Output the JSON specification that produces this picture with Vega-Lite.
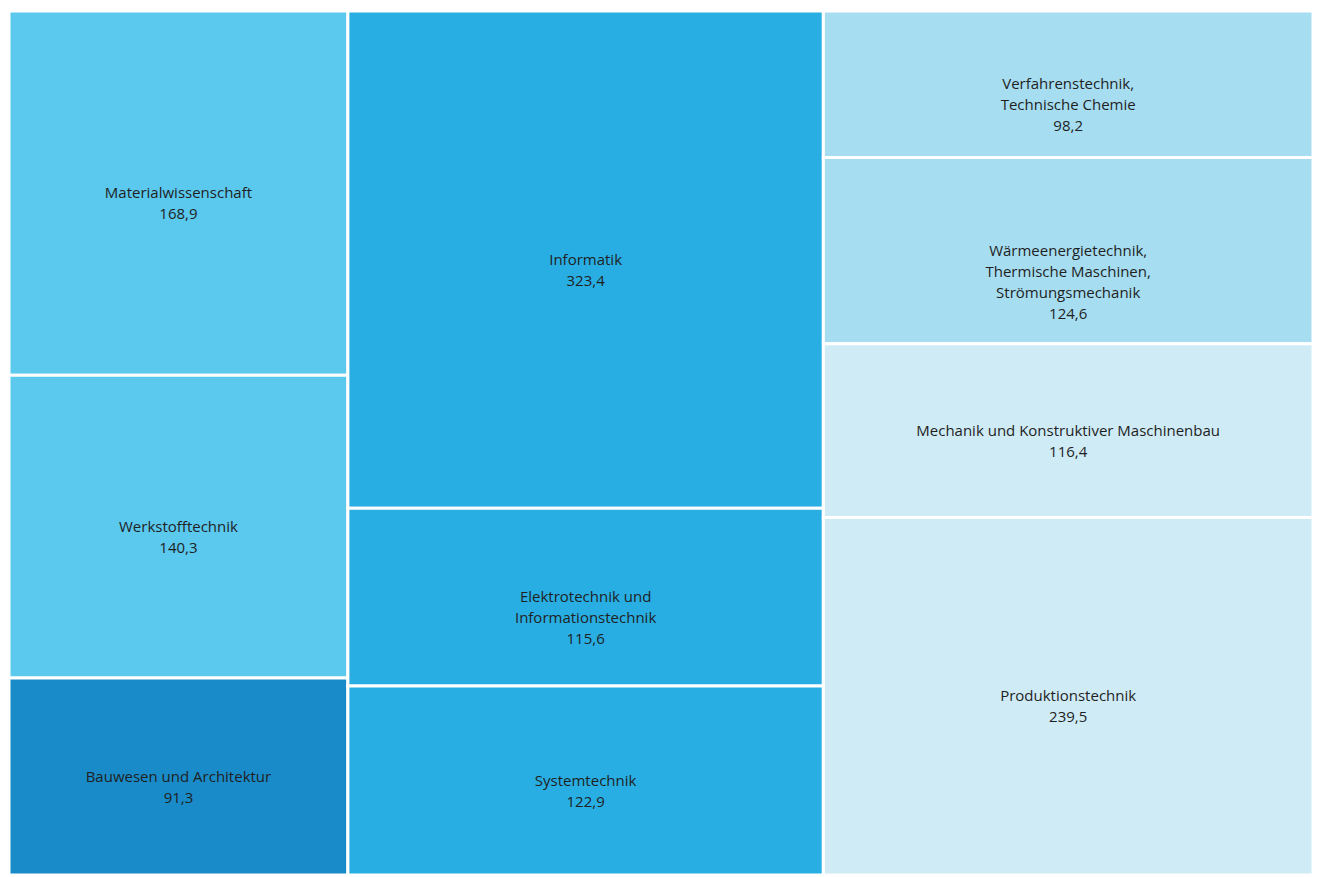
{
  "$schema": "https://vega.github.io/schema/vega-lite/v6.json",
  "autosize": {"type": "fit", "contains": "padding"},
  "width": 1319,
  "height": 877,
  "padding": {"left": 7, "top": 9, "right": 4, "bottom": 0},
  "background": "white",
  "config": {"view": {"stroke": null}},
  "data": {
    "values": [
      {"name": "Materialwissenschaft", "value": 168.9, "bereich": "links", "gruppe": "Material"},
      {"name": "Werkstofftechnik", "value": 140.3, "bereich": "links", "gruppe": "Material"},
      {"name": "Bauwesen und Architektur", "value": 91.3, "bereich": "links", "gruppe": "Bau"},
      {"name": "Informatik", "value": 323.4, "bereich": "mitte", "gruppe": "Info"},
      {"name": "Elektrotechnik und\nInformationstechnik", "value": 115.6, "bereich": "mitte", "gruppe": "Info"},
      {"name": "Systemtechnik", "value": 122.9, "bereich": "mitte", "gruppe": "Info"},
      {"name": "Verfahrenstechnik,\nTechnische Chemie", "value": 98.2, "bereich": "rechts", "gruppe": "Verfahren"},
      {"name": "Wärmeenergietechnik,\nThermische Maschinen,\nStrömungsmechanik", "value": 124.6, "bereich": "rechts", "gruppe": "Verfahren"},
      {"name": "Mechanik und Konstruktiver Maschinenbau", "value": 116.4, "bereich": "rechts", "gruppe": "Produktion"},
      {"name": "Produktionstechnik", "value": 239.5, "bereich": "rechts", "gruppe": "Produktion"}
    ]
  },
  "transform": [
    {"stack": "value", "groupby": [], "as": ["s0", "s1"]},
    {"joinaggregate": [{"op": "min", "field": "s0", "as": "gx0"}, {"op": "max", "field": "s1", "as": "gx1"}], "groupby": ["bereich"]},
    {"stack": "value", "groupby": ["bereich"], "offset": "normalize", "as": ["y0", "y1"]},
    {"calculate": "(datum.gx0 + datum.gx1) / 2", "as": "xm"},
    {"calculate": "(datum.y0 + datum.y1) / 2", "as": "ym"},
    {"calculate": "datum.name + '\\n' + replace(format(datum.value, '.1f'), '.', ',')", "as": "label"}
  ],
  "layer": [
    {
      "mark": {"type": "rect", "stroke": "white", "strokeWidth": 3},
      "encoding": {
        "x": {"field": "gx0", "type": "quantitative", "axis": null, "scale": {"nice": false, "zero": true}},
        "x2": {"field": "gx1"},
        "y": {"field": "y0", "type": "quantitative", "axis": null, "scale": {"domain": [0, 1], "nice": false, "reverse": true}},
        "y2": {"field": "y1"},
        "color": {
          "field": "gruppe",
          "type": "nominal",
          "legend": null,
          "scale": {
            "domain": ["Material", "Bau", "Info", "Verfahren", "Produktion"],
            "range": ["#5bc8ee", "#1a8bc9", "#29aee3", "#a6ddf1", "#cfebf6"]
          }
        }
      }
    },
    {
      "mark": {"type": "text", "lineBreak": "\n", "align": "center", "baseline": "middle", "font": "Open Sans", "fontSize": 15, "lineHeight": 21, "color": "#1f1f1f"},
      "encoding": {
        "x": {"field": "xm", "type": "quantitative"},
        "y": {"field": "ym", "type": "quantitative"},
        "text": {"field": "label"}
      }
    }
  ]
}
